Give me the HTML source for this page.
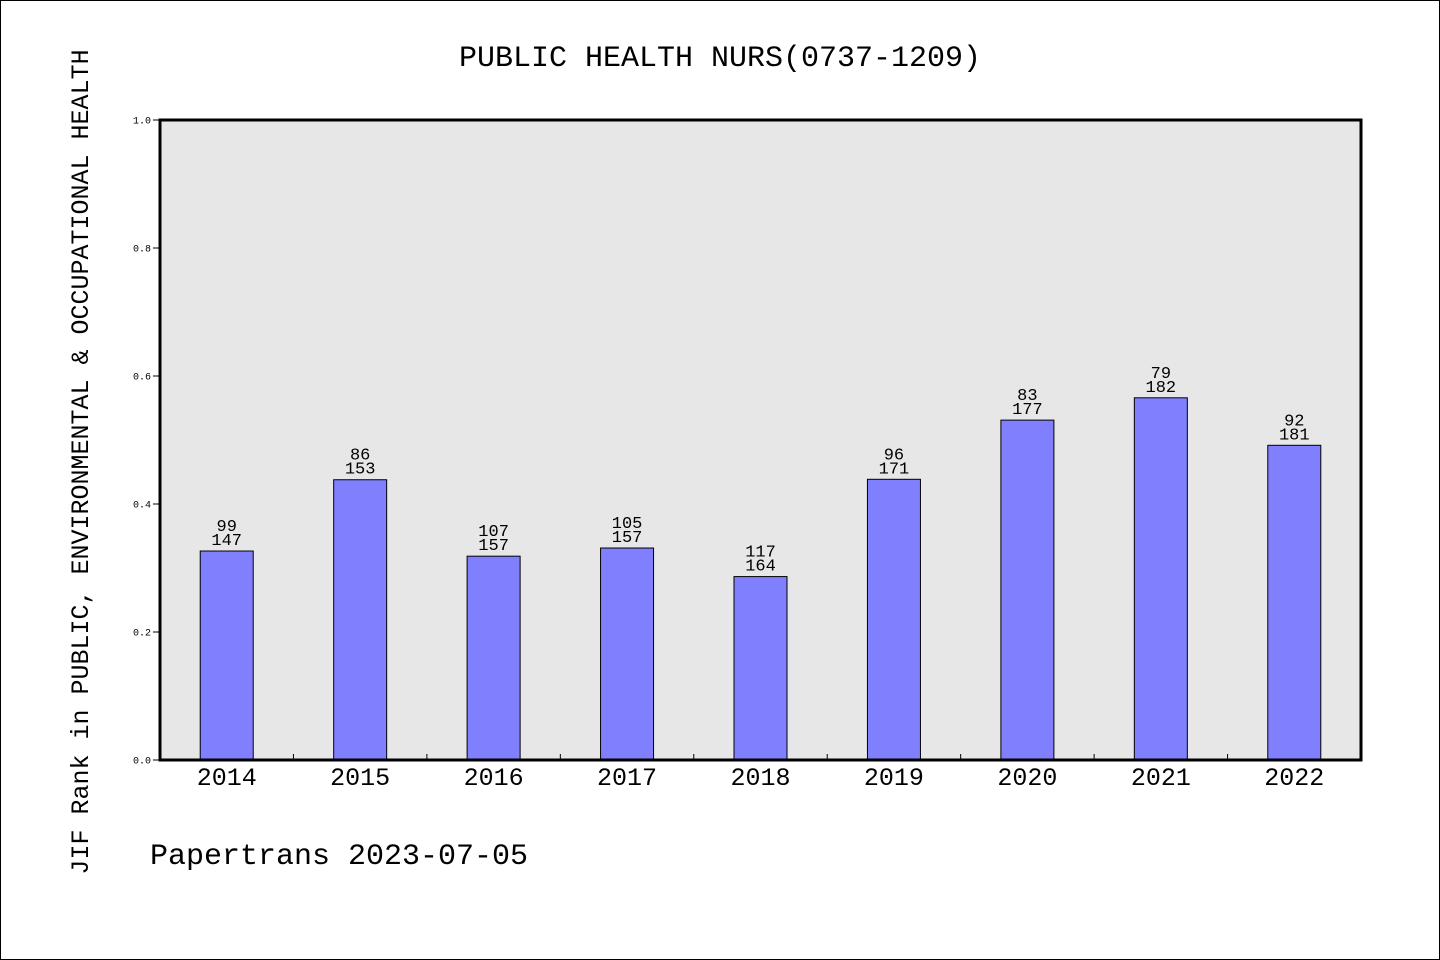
<!DOCTYPE html>
<html><head><meta charset="utf-8">
<style>
html,body{margin:0;padding:0;background:#fff;}
svg{display:block;}
text{font-family:"Liberation Mono","WenQuanYi Zen Hei",monospace;fill:#000;}
</style></head>
<body>
<svg id="chart" width="1440" height="960" viewBox="0 0 1440 960">
<rect x="0.5" y="0.5" width="1439" height="959" fill="#fff" stroke="#000"/>
<text x="720" y="66" font-size="30" text-anchor="middle">PUBLIC HEALTH NURS(0737-1209)</text>
<text transform="translate(88,462) rotate(-90)" font-size="25" text-anchor="middle">JIF Rank in PUBLIC, ENVIRONMENTAL &amp; OCCUPATIONAL HEALTH</text>
<text x="150" y="864" font-size="30">Papertrans 2023-07-05</text>
<rect x="160" y="120" width="1201" height="640" fill="#e7e7e7"/>
<g id="marks"></g>
<rect x="160" y="120" width="1201" height="640" fill="none" stroke="#000" stroke-width="3"/>
</svg>
<script>
const years = ["2014","2015","2016","2017","2018","2019","2020","2021","2022"];
const ranks = [99,86,107,105,117,96,83,79,92];
const totals = [147,153,157,157,164,171,177,182,181];
const yTicks = ["0.0","0.2","0.4","0.6","0.8","1.0"];

const NS="http://www.w3.org/2000/svg";
const g=document.getElementById('marks');
const x0=160,x1=1361,y0=760,y1=120;
const band=(x1-x0)/years.length;
function xScale(i){return x0+band*(i+0.5);}
function yScale(v){return y0-(y0-y1)*v;}
function mk(tag,attrs){const e=document.createElementNS(NS,tag);for(const k in attrs)e.setAttribute(k,attrs[k]);g.appendChild(e);return e;}

yTicks.forEach(t=>{
  const y=yScale(parseFloat(t));
  const l=mk('line',{x1:153,x2:160,y1:y,y2:y,stroke:'#000'});
  
  
  const tx=mk('text',{x:151,y:y+3.5,'font-size':10,'text-anchor':'end'});
  tx.textContent=t;
  
  
});

for(let i=1;i<years.length;i++){
  const x=x0+band*i;
  const l=mk('line',{x1:x,x2:x,y1:y0,y2:y0-6,stroke:'#000'});
  
  
}

years.forEach((yr,i)=>{
  const v=1-ranks[i]/totals[i];
  const cx=xScale(i),w=53;
  const top=yScale(v);
  const r=mk('rect',{x:cx-w/2,y:top,width:w,height:y0-top,fill:'#8080ff',stroke:'#000','stroke-width':1});
  
  
  const t1=mk('text',{x:cx,y:top-20,'font-size':17,'text-anchor':'middle'});
  t1.textContent=ranks[i];
  
  
  const t2=mk('text',{x:cx,y:top-6,'font-size':17,'text-anchor':'middle'});
  t2.textContent=totals[i];
  
  
  const xl=mk('text',{x:cx,y:785,'font-size':25,'text-anchor':'middle'});
  xl.textContent=yr;
  
  
});
</script>
</body></html>
